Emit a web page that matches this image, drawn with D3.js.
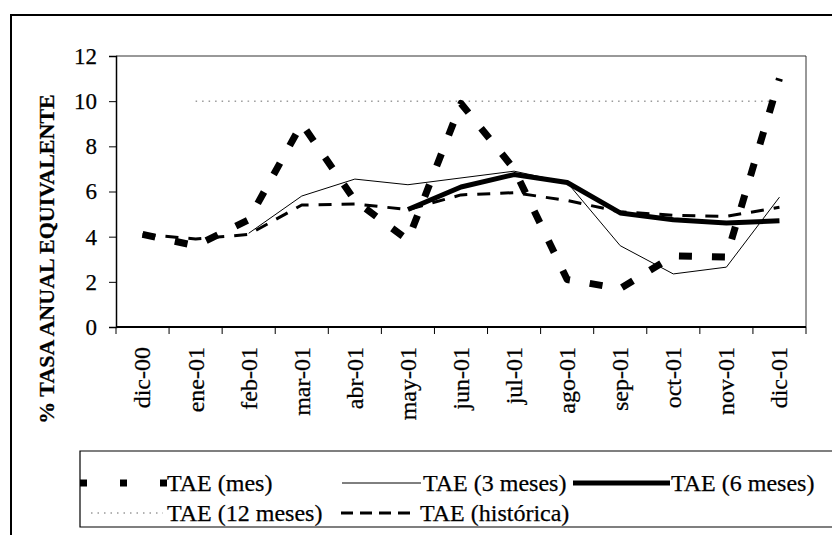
<!DOCTYPE html>
<html>
<head>
<meta charset="utf-8">
<script src="https://cdn.jsdelivr.net/npm/d3@7"></script>
<style>
  body { margin: 0; background: #fff; }
  text { font-family: "Liberation Serif", "Times New Roman", serif; fill: #000; stroke: #000; stroke-width: 0.25px; }
</style>
</head>
<body>
<div class="svg-container"></div>
<script>
// months on the x axis
var months = ["dic-00", "ene-01", "feb-01", "mar-01", "abr-01", "may-01", "jun-01",
              "jul-01", "ago-01", "sep-01", "oct-01", "nov-01", "dic-01"];

// series values (%), null = no data yet
var taeMes   = [4.1, 3.6, 4.75, 9.0, 5.6, 3.85, 9.9, 7.0, 2.1, 1.7, 3.15, 3.1, 11.0];
var tae3     = [null, null, 4.15, 5.8, 6.55, 6.3, 6.6, 6.9, 6.4, 3.6, 2.35, 2.65, 5.75];
var tae6     = [null, null, null, null, null, 5.2, 6.2, 6.75, 6.4, 5.05, 4.75, 4.6, 4.7];
var tae12    = [null, 10, 10, 10, 10, 10, 10, 10, 10, 10, 10, 10, 10];
var taeHist  = [4.1, 3.9, 4.1, 5.4, 5.45, 5.2, 5.85, 5.95, 5.6, 5.1, 4.95, 4.9, 5.3];

var yTicks = [0, 2, 4, 6, 8, 10, 12];

var width = 832, height = 535;
var plot = {left: 116, right: 806, top: 56, bottom: 327};

var svg = d3.select(".svg-container").append("svg")
    .attr("width", width)
    .attr("height", height);

svg.append("rect").attr("width", width).attr("height", height).attr("fill", "#fff");

// outer chart frame (only top and left are inside the picture)
svg.append("path")
    .attr("d", "M11,536 L11,15 L834,15")
    .attr("fill", "none")
    .attr("stroke", "#000")
    .attr("stroke-width", 2);

// scales
var x = d3.scaleBand().domain(months).range([plot.left, plot.right]).padding(0);
var y = d3.scaleLinear().domain([0, 12]).range([plot.bottom, plot.top]);
var cx = function(m) { return x(m) + x.bandwidth() / 2; };

// plot area border (top, right)
svg.append("path")
    .attr("d", "M" + plot.left + "," + plot.top + " L" + plot.right + "," + plot.top + " L" + plot.right + "," + plot.bottom)
    .attr("fill", "none")
    .attr("stroke", "#333")
    .attr("stroke-width", 1);

// Y axis
var yAxis = svg.append("g")
    .attr("transform", "translate(" + plot.left + ",0)")
    .call(d3.axisLeft(y).tickValues(yTicks).tickSize(7).tickPadding(12).tickFormat(d3.format("d")));
yAxis.attr("font-family", null);
yAxis.select(".domain").attr("stroke", "#000").attr("stroke-width", 1.5);
yAxis.selectAll("text").style("font-size", "23px");

// X axis, ticks between categories
var xAxis = svg.append("g")
    .attr("transform", "translate(0," + plot.bottom + ")");
xAxis.append("line")
    .attr("x1", plot.left).attr("x2", plot.right)
    .attr("stroke", "#000").attr("stroke-width", 2);
var bounds = months.map(function(m) { return x(m); }).concat([plot.right]);
xAxis.selectAll(".xt").data(bounds).enter().append("line")
    .attr("class", "xt")
    .attr("x1", function(d) { return d; }).attr("x2", function(d) { return d; })
    .attr("y1", 0).attr("y2", 7)
    .attr("stroke", "#000").attr("stroke-width", 1);
xAxis.selectAll(".xl").data(months).enter().append("text")
    .attr("class", "xl")
    .attr("transform", function(d) { return "translate(" + cx(d) + ",20) rotate(-90)"; })
    .attr("dy", "0.33em")
    .style("text-anchor", "end")
    .style("font-size", "24px")
    .text(function(d) { return d; });

// Y axis title
svg.append("text")
    .attr("transform", "translate(46,259) rotate(-90)")
    .attr("dy", "0.35em")
    .style("text-anchor", "middle")
    .style("font-size", "22px")
    .style("font-weight", "bold")
    .text("% TASA ANUAL EQUIVALENTE");

// series
var series = [
    {name: "TAE (12 meses)", values: tae12,   width: 1,   dash: "1.5,5", color: "#666"},
    {name: "TAE (3 meses)",  values: tae3,    width: 1,   dash: null,    color: "#000"},
    {name: "TAE (histórica)", values: taeHist, width: 3,  dash: "13,10", color: "#000"},
    {name: "TAE (6 meses)",  values: tae6,    width: 5,   dash: null,    color: "#000"},
    {name: "TAE (mes)",      values: taeMes,  width: 7,   dash: "13,20", color: "#000"}
];

var line = d3.line()
    .defined(function(d) { return d.v != null; })
    .x(function(d) { return cx(d.m); })
    .y(function(d) { return y(d.v); });

series.forEach(function(s) {
    var pts = months.map(function(m, i) { return {m: m, v: s.values[i]}; });
    svg.append("path")
        .datum(pts)
        .attr("d", line)
        .attr("fill", "none")
        .attr("stroke", s.color)
        .attr("stroke-width", s.width)
        .attr("stroke-dasharray", s.dash)
        .attr("stroke-linejoin", "round");
});

// Legend
svg.append("path")
    .attr("d", "M834,451 L80,451 L80,527 L834,527")
    .attr("fill", "none")
    .attr("stroke", "#000")
    .attr("stroke-width", 1.2);

var legendItems = [
    {s: series[4], x1: 80,  x2: 167, tx: 167, ty: 483, dash: "7,33"},
    {s: series[1], x1: 342, x2: 421, tx: 423, ty: 483},
    {s: series[3], x1: 573, x2: 670, tx: 671, ty: 483},
    {s: series[0], x1: 91,  x2: 163, tx: 167, ty: 513},
    {s: series[2], x1: 341, x2: 416, tx: 420, ty: 513, dash: "12,7"}
];

var lg = svg.append("g");
legendItems.forEach(function(it) {
    lg.append("line")
        .attr("x1", it.x1).attr("x2", it.x2)
        .attr("y1", it.ty).attr("y2", it.ty)
        .attr("stroke", it.s.color)
        .attr("stroke-width", it.s.width)
        .attr("stroke-dasharray", it.dash || it.s.dash);
    lg.append("text")
        .attr("x", it.tx).attr("y", it.ty)
        .attr("dy", "0.35em")
        .style("font-size", "24px")
        .text(it.s.name);
});
</script>
</body>
</html>
